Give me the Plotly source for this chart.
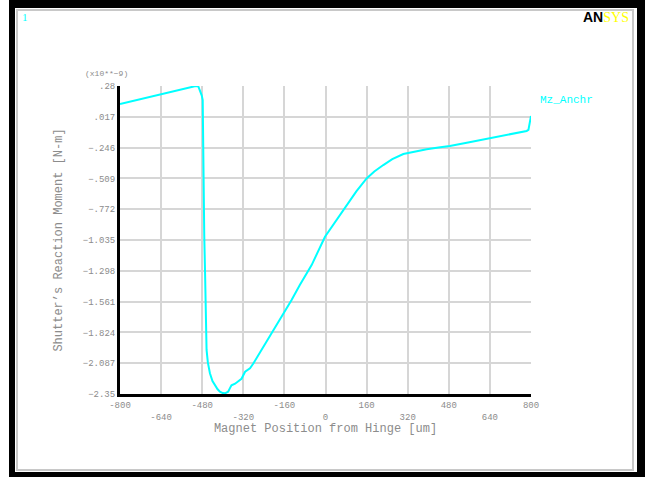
import plotly.graph_objects as go

# ---- data ----
x_pos = [-800, -700, -600, -520, -505, -495, -489, -482, -478, -477, -475, -472, -469,
         -467, -465, -463, -458, -450, -440, -430, -420, -411, -400, -391, -385, -379,
         -372, -366, -352, -340, -327, -313, -294, -281, -270, -255, -230, -200, -180,
         -160, -132, -100, -54, -2, 40, 81, 120, 160, 190, 225, 260, 303, 350, 394, 440,
         484, 560, 640, 720, 783, 790, 800]
moment = [0.126, 0.178, 0.229, 0.270, 0.280, 0.276, 0.246, 0.200, 0.160, -0.200, -0.600,
          -1.000, -1.300, -1.690, -1.850, -1.974, -2.080, -2.173, -2.240, -2.276, -2.310,
          -2.330, -2.342, -2.344, -2.340, -2.330, -2.300, -2.276, -2.262, -2.240, -2.220,
          -2.160, -2.130, -2.090, -2.050, -2.003, -1.910, -1.800, -1.720, -1.650, -1.548,
          -1.420, -1.249, -1.007, -0.870, -0.736, -0.620, -0.509, -0.450, -0.395, -0.345,
          -0.301, -0.277, -0.260, -0.245, -0.232, -0.200, -0.167, -0.135, -0.104, -0.095,
          0.024]
series_name = "Mz_Anchr"

x_ticks = [-800, -640, -480, -320, -160, 0, 160, 320, 480, 640, 800]
x_ticklabels = ["-800", "<br>-640", "-480", "<br>-320", "-160", "<br>0", "160",
                "<br>320", "480", "<br>640", "800"]
y_ticks = [0.28, 0.017, -0.246, -0.509, -0.772, -1.035, -1.298, -1.561, -1.824, -2.087, -2.35]
y_ticklabels = [".28", ".017", "\u2212.246", "\u2212.509", "\u2212.772", "\u22121.035",
                "\u22121.298", "\u22121.561", "\u22121.824", "\u22122.087", "\u22122.35"]

W, H = 645, 477
L, R, T, B = 120, 531, 86, 394
PW, PH = R - L, B - T


def px(xp):
    return (xp - L) / PW


def py(yp):
    return (B - yp) / PH


FONT = "Liberation Mono"
GRAY = "#8c8c8c"
CYAN = "#00ffff"

fig = go.Figure()
fig.add_trace(go.Scatter(x=x_pos, y=moment, mode="lines", name=series_name,
                         line=dict(color=CYAN, width=2), showlegend=False))

shapes = [
    dict(type="rect", xref="paper", yref="paper", x0=px(9), x1=px(646), y0=py(478), y1=py(-1),
         fillcolor="black", line=dict(width=0), layer="below"),
    dict(type="rect", xref="paper", yref="paper", x0=px(15), x1=px(637), y0=py(472), y1=py(8),
         fillcolor="white", line=dict(width=0), layer="below"),
    dict(type="rect", xref="paper", yref="paper", x0=px(17), x1=px(633), y0=py(470), y1=py(10),
         fillcolor="white", line=dict(color="#c8c8c8", width=2), layer="below"),
]

annotations = [
    dict(text="(x10**\u22129)", xref="paper", yref="paper", x=px(106), y=py(73),
         xanchor="center", yanchor="middle",
         showarrow=False, font=dict(family=FONT, size=8, color=GRAY)),
    dict(text=series_name, xref="paper", yref="paper", x=px(538), y=py(100),
         xanchor="left", yanchor="middle",
         showarrow=False, font=dict(family=FONT, size=11, color=CYAN)),
    dict(text="1", xref="paper", yref="paper", x=px(20), y=py(17), xanchor="left",
         yanchor="middle",
         showarrow=False, font=dict(family="Liberation Serif", size=11, color=CYAN)),
    dict(text="<b>AN</b><span style='color:#ffff00;font-family:Liberation Serif'>SYS</span>",
         xref="paper", yref="paper", x=px(631), y=py(17), xanchor="right", yanchor="middle",
         showarrow=False, font=dict(family="Liberation Sans", size=14, color="black")),
]

fig.update_layout(
    width=W, height=H,
    margin=dict(l=L, r=W - R, t=T, b=H - B, pad=0),
    paper_bgcolor="white", plot_bgcolor="white",
    shapes=shapes, annotations=annotations,
    font=dict(family=FONT, color=GRAY),
    xaxis=dict(range=[-800, 800], tickmode="array", tickvals=x_ticks, ticktext=x_ticklabels,
               showgrid=True, gridcolor="#d6d6d6", gridwidth=1.5, zeroline=False,
               showline=True, linecolor="black", linewidth=3, ticks="",
               tickfont=dict(family=FONT, size=9, color=GRAY),
               title=dict(text="Magnet Position from Hinge [um]", standoff=0,
                          font=dict(family=FONT, size=12, color=GRAY)),
               automargin=False),
    yaxis=dict(range=[-2.35, 0.28], tickmode="array", tickvals=y_ticks, ticktext=y_ticklabels,
               showgrid=True, gridcolor="#d6d6d6", gridwidth=1.5, zeroline=False,
               showline=True, linecolor="black", linewidth=3, ticks="",
               tickfont=dict(family=FONT, size=9, color=GRAY),
               title=dict(text="Shutter\u2019s Reaction Moment [N-m]", standoff=18,
                          font=dict(family=FONT, size=12, color=GRAY)),
               automargin=False),
)

fig.write_html("out.html", config={"displayModeBar": False},
               post_script="document.body.style.margin='0';document.body.style.overflow='hidden';")
